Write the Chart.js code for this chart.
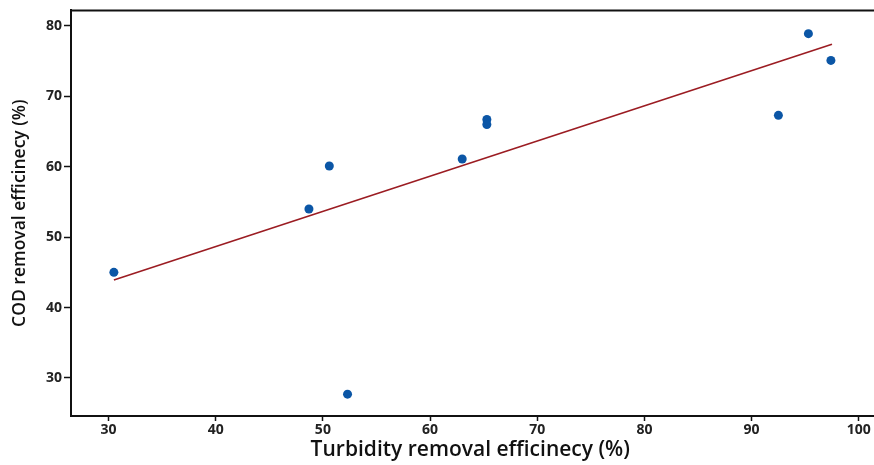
<!DOCTYPE html>
<html>
<head>
<meta charset="utf-8">
<script src="https://cdn.jsdelivr.net/npm/chart.js@4.4.1/dist/chart.umd.min.js"></script>
<style>
    html, body { margin: 0; padding: 0; background: #fff; }
    #wrap { width: 874px; height: 465px; position: relative; }
</style>
</head>
<body>
<div id="wrap"><canvas id="scatterChart"></canvas></div>
<script>
// measured points (turbidity %, COD %)
const turbidity = [30.5, 48.7, 50.6, 52.3, 63.0, 65.3, 65.3, 92.5, 95.3, 97.4];
const cod = [45.0, 54.0, 60.1, 27.7, 61.1, 66.7, 66.0, 67.3, 78.9, 75.1];
// fitted line end points
const fitX = [30.5, 97.5];
const fitY = [43.9, 77.4];

const colors = {
    point: '#0b56a6',
    fit: '#9b1c22',
    axis: '#111111',
    text: '#222222'
};

// frame line along the top, running off the right edge
const topBorder = {
    id: 'topBorder',
    afterDraw(chart) {
        const { ctx, chartArea } = chart;
        ctx.save();
        ctx.strokeStyle = colors.axis;
        ctx.lineWidth = 2;
        ctx.beginPath();
        ctx.moveTo(chartArea.left, chartArea.top);
        ctx.lineTo(chart.width, chartArea.top);
        ctx.moveTo(chartArea.right, chartArea.bottom);
        ctx.lineTo(chart.width, chartArea.bottom);
        ctx.stroke();
        ctx.restore();
    }
};

const points = turbidity.map((x, i) => ({ x: x, y: cod[i] }));
const fitLine = fitX.map((x, i) => ({ x: x, y: fitY[i] }));

new Chart(document.getElementById('scatterChart').getContext('2d'), {
    type: 'scatter',
    data: {
        datasets: [{
            label: 'Fit',
            data: fitLine,
            showLine: true,
            borderColor: colors.fit,
            borderWidth: 1.6,
            pointRadius: 0,
            order: 2
        }, {
            label: 'Data',
            data: points,
            backgroundColor: colors.point,
            borderColor: colors.point,
            pointRadius: 4.5,
            borderWidth: 0,
            order: 1
        }]
    },
    options: {
        responsive: true,
        maintainAspectRatio: false,
        animation: false,
        layout: { padding: { top: 8, right: 0, bottom: 0, left: 0 } },
        plugins: {
            legend: { display: false },
            tooltip: { enabled: false }
        },
        scales: {
            x: {
                type: 'linear',
                min: 26.5,
                max: 101.0,
                afterFit: (axis) => {
                    axis.height = 49;
                },
                border: { display: true, color: colors.axis, width: 2 },
                grid: { drawOnChartArea: false, color: colors.axis, tickLength: 5, tickWidth: 1.5 },
                ticks: {
                    stepSize: 10,
                    includeBounds: false,
                    color: colors.text,
                    padding: 1,
                    font: { family: 'Open Sans', size: 14, weight: 'bold' }
                },
                title: {
                    display: true,
                    text: 'Turbidity removal efficinecy (%)',
                    color: '#111',
                    padding: { top: 0, bottom: 2 },
                    font: { family: 'Open Sans', size: 21, weight: 600 }
                }
            },
            y: {
                type: 'linear',
                min: 24.6,
                max: 82.2,
                afterFit: (axis) => {
                    axis.width = 71;
                },
                border: { display: true, color: colors.axis, width: 2 },
                grid: { drawOnChartArea: false, color: colors.axis, tickLength: 7, tickWidth: 1.5 },
                ticks: {
                    stepSize: 10,
                    includeBounds: false,
                    color: colors.text,
                    padding: 2,
                    font: { family: 'Open Sans', size: 14, weight: 'bold' }
                },
                title: {
                    display: true,
                    text: 'COD removal efficinecy (%)',
                    color: '#111',
                    padding: { top: 10, bottom: 0 },
                    font: { family: 'Open Sans', size: 17.5, weight: 600 }
                }
            }
        }
    },
    plugins: [topBorder]
});
</script>
</body>
</html>
